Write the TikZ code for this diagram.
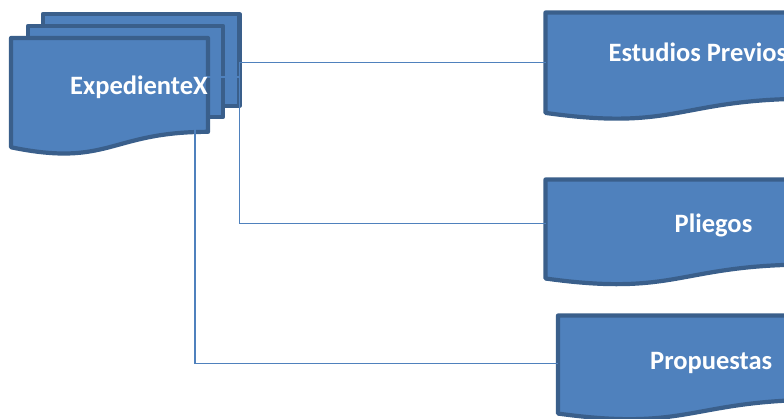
\documentclass[tikz,border=0pt]{standalone}
\usepackage{fontspec}
\setmainfont{Carlito}
\definecolor{docfill}{HTML}{4F81BD}
\definecolor{docline}{HTML}{3A5F8B}
\definecolor{connline}{HTML}{4F81BD}
\tikzset{
  docbox/.style={fill=docfill, draw=docline, line width=4.2pt, line join=round},
  doctext/.style={text=white, inner sep=0pt, anchor=base west, font=\fontsize{26.5}{31}\selectfont\bfseries},
  conn/.style={draw=connline, line width=1.4pt}
}
% #1 x0, #2 y0 (top), #3 width, #4 height
\newcommand\mydocshape[4]{%
  \path[docbox] (#1,#2) -- (#1+#3,#2) -- (#1+#3,#2+0.802*#4)
    .. controls (#1+0.5*#3,#2+0.802*#4) and (#1+0.5*#3,#2+1.1075*#4) .. (#1,#2+0.934*#4) -- cycle;}
\begin{document}
\begin{tikzpicture}[x=1pt,y=-1pt]
\useasboundingbox (0,0) rectangle (784,419);
\clip (0,0) rectangle (784,419);
% multi-document (left)
\path[docbox] (43,14) rectangle (239.5,106);
\path[docbox] (28,26) rectangle (223,117);
\mydocshape{11}{38}{197}{117}
% right documents
\mydocshape{545.5}{12.5}{265}{107.5}
\mydocshape{545.5}{179.5}{265}{106}
\mydocshape{558}{315.5}{265}{105}
% connector points
\coordinate (expR) at (239.5,62.5);
\coordinate (expM) at (239.5,77);
\coordinate (expF) at (195,77);
\coordinate (estL) at (545.5,62.5);
\coordinate (pliL) at (545.5,223.5);
\coordinate (proL) at (558,363.5);
% connectors
\draw[conn] (expR) -- (estL);
\draw[conn] (expR) |- (pliL);
\draw[conn] (expM) -- (expF) |- (proL);
% texts
\node[doctext] (expT) at (70,94.3) {ExpedienteX};
\node[doctext] (estT) at (608.5,62) {Estudios Previos};
\node[doctext] (pliT) at (674.5,232.3) {Pliegos};
\node[doctext] (proT) at (650,369) {Propuestas};
\end{tikzpicture}
\end{document}
